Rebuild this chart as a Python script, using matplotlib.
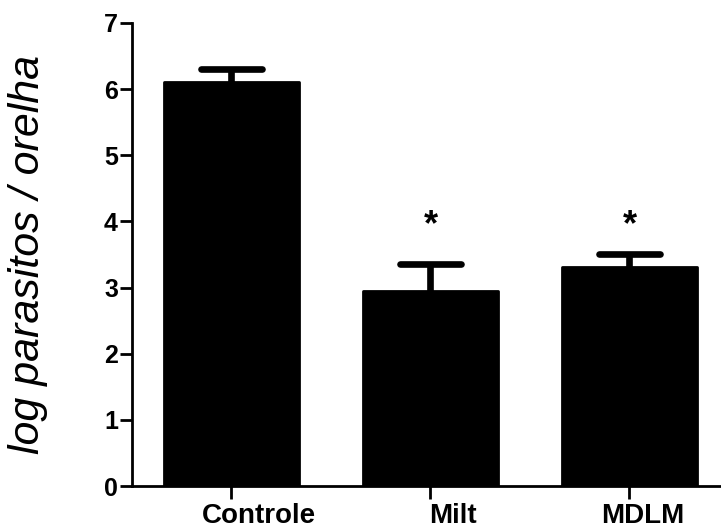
import matplotlib
matplotlib.use("Agg")
import matplotlib.pyplot as plt
from matplotlib.transforms import ScaledTranslation
import numpy as np

categories = ["Controle", "Milt", "MDLM"]
means = [6.11, 2.95, 3.31]
errors = [0.19, 0.41, 0.20]
significance = ["", "*", "*"]
sig_level = 3.94
yticks = [0, 1, 2, 3, 4, 5, 6, 7]

plt.rcParams['font.family'] = ['Liberation Sans', 'DejaVu Sans']

fig = plt.figure(figsize=(7.21, 5.31), dpi=100)
ax = fig.add_axes([132/721, 1 - 486/531, 588/721, 463/531])

x = np.arange(len(categories))
ax.bar(x, means, width=0.675, color='black', edgecolor='black',
       linewidth=2, joinstyle='round', zorder=2)

tops = np.array(means) + np.array(errors)
ax.vlines(x, means, tops, color='black', linewidth=4.8, zorder=1)
ax.hlines(tops, x - 0.155, x + 0.155, color='black', linewidth=4.8,
          capstyle='round', zorder=3)

for xi, s in zip(x, significance):
    if s:
        ax.text(xi, sig_level, s, ha='center', va='center', fontsize=26,
                fontweight='bold', color='black')

ax.set_xlim(-0.5, 2.455)
ax.set_ylim(0, 7)
ax.set_yticks(yticks)
ax.set_yticklabels([str(t) for t in yticks], fontsize=18, fontweight='bold')
ax.set_xticks(x)
ax.set_xticklabels([])

# category labels, slightly offset to the right as in the reference
label_offsets_px = [27, 22, 13]
for xi, lab, off in zip(x, categories, label_offsets_px):
    tr = ax.get_xaxis_transform() + ScaledTranslation(off/100, -17/100, fig.dpi_scale_trans)
    ax.text(xi, 0, lab, transform=tr, ha='center', va='top', fontsize=20,
            fontweight='bold', clip_on=False)

ax.spines['top'].set_visible(False)
ax.spines['right'].set_visible(False)
ax.spines['left'].set_linewidth(2)
ax.spines['bottom'].set_linewidth(2)
ax.tick_params(axis='y', length=8.6, width=2, pad=1.5)
ax.tick_params(axis='x', length=9.4, width=2, pad=2)

ax.set_ylabel("log parasitos / orelha", fontsize=31, fontstyle='italic')
ax.yaxis.set_label_coords(-0.177, 0.5)
ax.yaxis.label.set_verticalalignment('center')

fig.savefig("out.png", dpi=100)
